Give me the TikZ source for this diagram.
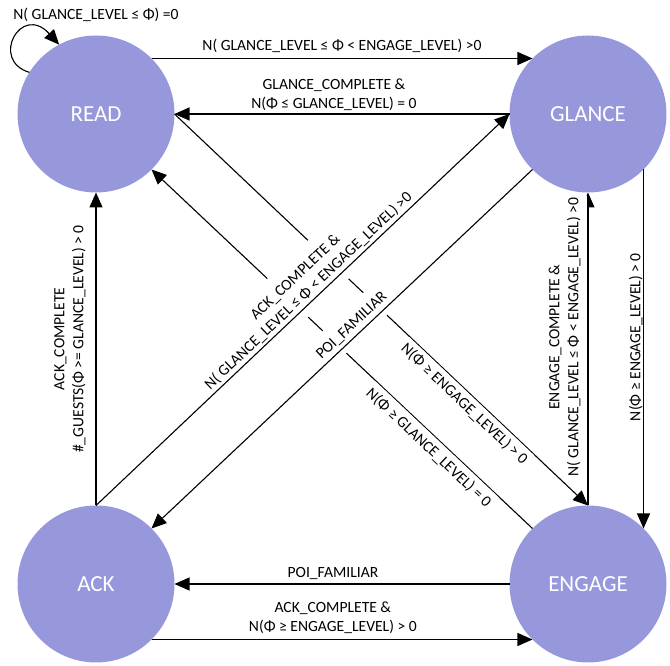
\documentclass[tikz,border=0pt]{standalone}
\usepackage{fontspec}
\setmainfont{Carlito}
\usetikzlibrary{arrows.meta}
\definecolor{statefill}{RGB}{151,151,220}
\begin{document}
\begin{tikzpicture}[x=1pt,y=1pt,
  state/.style={circle, fill=statefill, draw=none, minimum size=157pt, inner sep=0pt, outer sep=0pt, text=white, font=\fontsize{23}{27}\selectfont},
  conn/.style={line width=1.1pt, -{Triangle[length=15pt,width=13pt]}},
  lbl/.style={font=\fontsize{15.6}{19}\selectfont, align=center, inner xsep=2pt, fill=white},
]
\useasboundingbox (0,0) rectangle (670,666);
\node[state] (read) at (96,552) {READ};
\node[state] (glance) at (588,552) {GLANCE};
\node[state] (ack) at (96,82) {ACK};
\node[state] (engage) at (588,82) {ENGAGE};

% self loop
\draw[conn] (read.148) .. controls +(-40,12) and +(-38,42) .. (read.118);
\node[lbl, fill=none] (selflbl) at ([yshift=20.5pt]read.north) {N( GLANCE\_LEVEL ≤ Φ) =0};

% READ -> GLANCE
\draw[conn] (read.45) -- node[lbl, midway, anchor=south, inner ysep=5pt] {N( GLANCE\_LEVEL ≤ Φ < ENGAGE\_LEVEL) >0} (glance.135);
% GLANCE -> READ
\draw[conn] (glance.west) -- node[lbl, pos=0.524, anchor=south, inner ysep=3pt] {GLANCE\_COMPLETE \&\\N(Φ ≤ GLANCE\_LEVEL) = 0} (read.east);
% ACK -> READ
\draw[conn] (ack.north) -- node[lbl, pos=0.532, rotate=90, anchor=south, inner ysep=10pt] {ACK\_COMPLETE\\\#\_GUESTS(Φ >= GLANCE\_LEVEL) > 0} (read.south);
% ENGAGE -> GLANCE
\draw[conn] (engage.north) -- node[lbl, pos=0.538, rotate=90, anchor=south, inner ysep=7pt] {ENGAGE\_COMPLETE \&\\N( GLANCE\_LEVEL ≤ Φ < ENGAGE\_LEVEL) >0} (glance.south);
% GLANCE -> ENGAGE
\draw[conn] (glance.-45) -- node[lbl, pos=0.467, rotate=90, anchor=south, inner ysep=0.5pt] {N(Φ ≥ ENGAGE\_LEVEL) > 0} (engage.45);
% ENGAGE -> ACK
\draw[conn] (engage.west) -- node[lbl, pos=0.527, anchor=south, inner ysep=4pt] {POI\_FAMILIAR} (ack.east);
% ACK -> ENGAGE
\draw[conn] (ack.-45) -- node[lbl, pos=0.476, anchor=south, inner ysep=5pt] {ACK\_COMPLETE \&\\N(Φ ≥ ENGAGE\_LEVEL) > 0} (engage.-135);
% READ -> ENGAGE
\draw[conn] (read.east) -- node[lbl, pos=0.72, sloped, anchor=north, inner ysep=4pt] {N(Φ ≥ ENGAGE\_LEVEL) > 0} (engage.north);
% ENGAGE -> READ
\draw[conn] (engage.135) -- node[lbl, pos=0.25, sloped, anchor=north, inner ysep=5pt] {N(Φ ≥ GLANCE\_LEVEL) = 0} (read.-45);
% labels of ACK <-> GLANCE (white boxes cut the crossing lines)
\path (ack.north) -- node[lbl, pos=0.53, sloped, anchor=south, inner ysep=12pt, outer ysep=-9pt] {ACK\_COMPLETE \&\\N( GLANCE\_LEVEL ≤ Φ < ENGAGE\_LEVEL) >0} (glance.west);
\path (glance.225) -- node[lbl, pos=0.456, sloped, anchor=south, inner ysep=10pt, outer ysep=-6pt] {POI\_FAMILIAR} (ack.45);
% ACK -> GLANCE, GLANCE -> ACK
\draw[conn] (ack.north) -- (glance.west);
\draw[conn] (glance.225) -- (ack.45);
\end{tikzpicture}
\end{document}
